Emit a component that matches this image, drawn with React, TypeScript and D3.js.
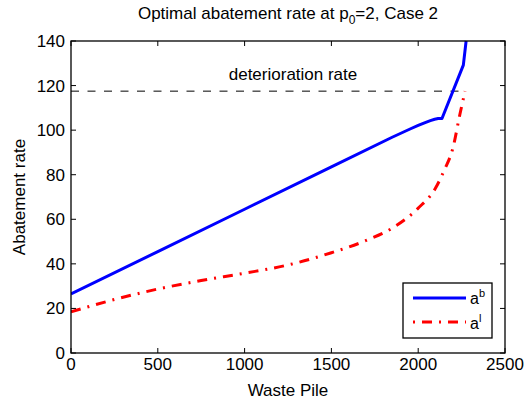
import React from "react";
import * as d3 from "d3";

const xTicks = [0, 500, 1000, 1500, 2000, 2500];
const yTicks = [0, 20, 40, 60, 80, 100, 120, 140];

const blueX = [0, 500, 1000, 1500, 1850, 1950, 2000, 2040, 2070, 2095, 2115, 2137, 2260, 2276];
const blueY = [26.5, 45.5, 64.5, 83.5, 96.8, 100.4, 102.1, 103.4, 104.3, 104.9, 105.2, 105.2, 129.2, 140];

const redX = [0, 250, 500, 750, 1000, 1250, 1500, 1700, 1850, 2000, 2100, 2150, 2200, 2240, 2270];
const redY = [18.5, 24, 28.7, 32.5, 35.8, 39.5, 45, 50.5, 56, 65, 74, 82, 92, 107, 117.5];

const detRate = 117.5;
const detX = [0, 2250];

const W = 527;
const H = 400;
const left = 71, right = 505, top = 41, bottom = 353;
const font = "'Liberation Sans', Arial, Helvetica, sans-serif";

export default function App() {
  const x = d3.scaleLinear().domain([0, 2500]).range([left, right]);
  const y = d3.scaleLinear().domain([0, 140]).range([bottom, top]);

  const blue = blueX.map((v, i) => [v, blueY[i]] as [number, number]);
  const red = redX.map((v, i) => [v, redY[i]] as [number, number]);

  const blueLine = d3.line<[number, number]>().x(d => x(d[0])).y(d => y(d[1]));
  const redLine = d3
    .line<[number, number]>()
    .x(d => x(d[0]))
    .y(d => y(d[1]))
    .curve(d3.curveMonotoneX);

  const tl = 5;

  return (
    <div style={{ position: "absolute", left: 0, top: 0 }}>
      <svg width={W} height={H} style={{ display: "block", background: "#fff" }} fontFamily={font}>
        <defs>
          <clipPath id="plotclip">
            <rect x={left} y={top - 1} width={right - left} height={bottom - top + 1} />
          </clipPath>
        </defs>
        <rect x={0} y={0} width={W} height={H} fill="#fff" />

        <text x={(left + right) / 2} y={19} textAnchor="middle" fontSize={17} fill="#000">
          Optimal abatement rate at p
          <tspan fontSize={12} dy={5}>0</tspan>
          <tspan dy={-5}>=2, Case 2</tspan>
        </text>

        {xTicks.map(t => (
          <g key={"x" + t}>
            <line x1={x(t)} x2={x(t)} y1={bottom} y2={bottom - tl} stroke="#000" strokeWidth={1} />
            <line x1={x(t)} x2={x(t)} y1={top} y2={top + tl} stroke="#000" strokeWidth={1} />
            <text x={x(t)} y={370} textAnchor="middle" fontSize={17} fill="#000">
              {t}
            </text>
          </g>
        ))}
        {yTicks.map(t => (
          <g key={"y" + t}>
            <line x1={left} x2={left + tl} y1={y(t)} y2={y(t)} stroke="#000" strokeWidth={1} />
            <line x1={right} x2={right - tl} y1={y(t)} y2={y(t)} stroke="#000" strokeWidth={1} />
            <text x={65} y={y(t) + 6} textAnchor="end" fontSize={17} fill="#000">
              {t}
            </text>
          </g>
        ))}

        <text x={(left + right) / 2} y={396} textAnchor="middle" fontSize={17} fill="#000">
          Waste Pile
        </text>
        <text
          transform={`translate(25,${(top + bottom) / 2}) rotate(-90)`}
          textAnchor="middle"
          fontSize={17}
          fill="#000"
        >
          Abatement rate
        </text>

        <line
          x1={x(detX[0])}
          x2={x(detX[1])}
          y1={y(detRate)}
          y2={y(detRate)}
          stroke="#000"
          strokeWidth={1}
          strokeDasharray="8,8.5"
        />
        <text x={293} y={80} textAnchor="middle" fontSize={17} fill="#000">
          deterioration rate
        </text>

        <g clipPath="url(#plotclip)">
          <path d={redLine(red) || ""} fill="none" stroke="#ff0000" strokeWidth={3} strokeDasharray="10,7,2,7" />
          <path d={blueLine(blue) || ""} fill="none" stroke="#0000ff" strokeWidth={3} strokeLinejoin="round" />
        </g>

        <rect x={left} y={top} width={right - left} height={bottom - top} fill="none" stroke="#000" strokeWidth={1.3} />

        <rect x={403} y={283} width={89} height={55} fill="#fff" stroke="#000" strokeWidth={1.3} />
        <line x1={413} x2={466} y1={298} y2={298} stroke="#0000ff" strokeWidth={3} />
        <line x1={413} x2={466} y1={322} y2={322} stroke="#ff0000" strokeWidth={3} strokeDasharray="2,7,10,7" />
        <text x={470} y={304} fontSize={16} fill="#000">
          a<tspan fontSize={11} dy={-7}>b</tspan>
        </text>
        <text x={470} y={329} fontSize={16} fill="#000">
          a<tspan fontSize={11} dy={-7}>l</tspan>
        </text>
      </svg>
    </div>
  );
}
